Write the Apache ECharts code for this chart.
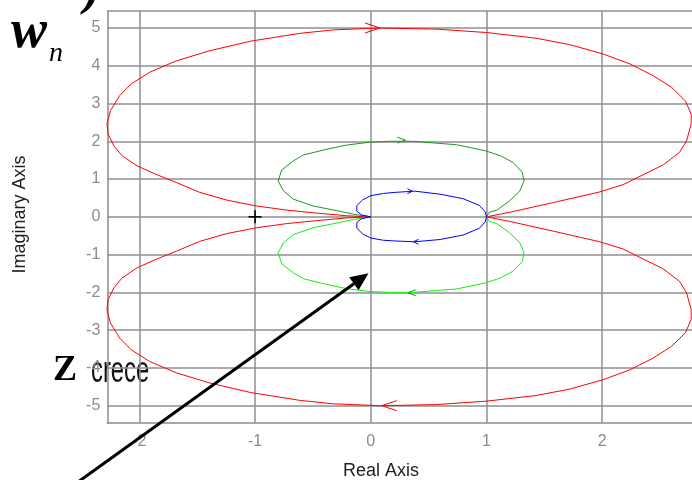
<!DOCTYPE html>
<html>
<head>
<meta charset="utf-8">
<script src="https://cdn.jsdelivr.net/npm/echarts@6/dist/echarts.min.js"></script>
<style>
  html, body { margin: 0; padding: 0; background: #ffffff; }
  #chart { width: 692px; height: 480px; }
</style>
</head>
<body>
<div id="chart"></div>
<script>
// Axis ticks and visible ranges
const xTickLabels = [-2, -1, 0, 1, 2];
const yTickLabels = [-5, -4, -3, -2, -1, 0, 1, 2, 3, 4, 5];
const xRange = [-2.277, 2.777];
const yRange = [-5.45, 5.45];

// Red locus, positive frequencies: from (1, 0) round the bottom into the origin
const redLowRe = [1.00, 1.20, 1.58, 1.98, 2.18, 2.53, 2.67, 2.73, 2.77, 2.77, 2.72, 2.60, 2.44, 2.24, 2.01, 1.72, 1.43, 1.00, 0.57, 0.08,
  -0.32, -0.61, -1.04, -1.39, -1.68, -1.91, -2.07, -2.17, -2.25, -2.28, -2.27, -2.22, -2.15, -2.02, -1.86, -1.68, -1.48, -1.24, -0.99, -0.73, -0.47, -0.21, -0.02];
const redLowIm = [0.00, -0.12, -0.38, -0.66, -0.85, -1.38, -1.71, -2.01, -2.46, -2.72, -3.07, -3.43, -3.74, -4.05, -4.31, -4.56, -4.73, -4.88, -4.97, -5.00,
  -4.95, -4.86, -4.65, -4.40, -4.13, -3.83, -3.52, -3.21, -2.81, -2.46, -2.19, -1.88, -1.62, -1.35, -1.13, -0.91, -0.65, -0.44, -0.29, -0.18, -0.10, -0.03, 0.00];
// Red locus, negative frequencies (upper half)
const redUpRe = [1.00, 1.20, 1.58, 1.98, 2.18, 2.53, 2.67, 2.73, 2.77, 2.77, 2.72, 2.60, 2.44, 2.24, 2.01, 1.72, 1.43, 1.00, 0.57, 0.08,
  -0.32, -0.61, -1.04, -1.39, -1.68, -1.91, -2.07, -2.17, -2.25, -2.28, -2.27, -2.22, -2.15, -2.02, -1.86, -1.68, -1.48, -1.24, -0.99, -0.73, -0.47, -0.21, -0.02];
const redUpIm = [0.00, 0.12, 0.38, 0.66, 0.85, 1.38, 1.71, 2.01, 2.46, 2.72, 3.07, 3.43, 3.74, 4.05, 4.31, 4.56, 4.73, 4.88, 4.97, 5.00,
  4.95, 4.86, 4.65, 4.40, 4.13, 3.83, 3.52, 3.21, 2.81, 2.46, 2.19, 1.88, 1.62, 1.35, 1.13, 0.91, 0.65, 0.44, 0.29, 0.18, 0.10, 0.03, 0.00];

// Green locus
const greenLowRe = [1.00, 1.025, 1.09, 1.20, 1.29, 1.325, 1.31, 1.23, 1.12, 0.99, 0.74, 0.57, 0.37, 0.17, 0.00, -0.21, -0.38, -0.58, -0.67, -0.77, -0.80, -0.755, -0.67, -0.50, -0.32, -0.15, 0.00];
const greenLowIm = [0.00, -0.12, -0.18, -0.42, -0.69, -0.95, -1.18, -1.44, -1.62, -1.75, -1.91, -1.95, -2.00, -2.00, -1.98, -1.90, -1.79, -1.64, -1.48, -1.24, -0.95, -0.69, -0.47, -0.29, -0.18, -0.07, 0.00];
const greenUpRe = [1.00, 1.025, 1.09, 1.20, 1.29, 1.325, 1.31, 1.23, 1.12, 0.99, 0.74, 0.57, 0.37, 0.17, 0.00, -0.21, -0.38, -0.58, -0.67, -0.77, -0.80, -0.755, -0.67, -0.50, -0.32, -0.15, 0.00];
const greenUpIm = [0.00, 0.12, 0.18, 0.42, 0.69, 0.95, 1.18, 1.44, 1.62, 1.75, 1.91, 1.95, 2.00, 2.00, 1.98, 1.90, 1.79, 1.64, 1.48, 1.24, 0.95, 0.69, 0.47, 0.29, 0.18, 0.07, 0.00];

// Blue locus
const blueLowRe = [1.00, 0.99, 0.94, 0.80, 0.60, 0.38, 0.22, 0.11, 0.00, -0.07, -0.12, -0.12, -0.08, 0.00];
const blueLowIm = [0.00, -0.13, -0.30, -0.48, -0.60, -0.66, -0.64, -0.62, -0.56, -0.45, -0.30, -0.15, -0.05, 0.00];
const blueUpRe = [1.00, 0.99, 0.94, 0.80, 0.60, 0.38, 0.22, 0.11, 0.00, -0.07, -0.12, -0.12, -0.08, 0.00];
const blueUpIm = [0.00, 0.13, 0.30, 0.48, 0.60, 0.68, 0.65, 0.62, 0.56, 0.45, 0.30, 0.15, 0.05, 0.00];

// Direction arrows on each locus: [re, im, heading in degrees on screen]
const redArrows = [[0.08, 5.00, 0], [0.095, -5.00, 180]];
const greenArrows = [[0.30, 2.03, 0], [0.32, -2.01, 180]];
const blueArrows = [[0.36, 0.68, 0], [0.37, -0.66, 180]];
// Critical point -1 + j0
const criticalPoint = [[-1, 0]];

const RED = '#ff0000';
const GREEN_UP = '#1f981f';
const GREEN_LOW = '#14ee14';
const BLUE = '#0000ff';
const FRAME = '#8c8c8c';

function zip(re, im) { return re.map((v, i) => [v, im[i]]); }

function curve(re, im, color) {
  return {
    type: 'line', data: zip(re, im), showSymbol: false, smooth: false,
    lineStyle: { color: color, width: 1 }, silent: true, animation: false, z: 3
  };
}

function arrowSeries(points, color, len, half, lw) {
  return {
    type: 'custom', data: points, silent: true, animation: false, z: 6, clip: false,
    renderItem: function (params, api) {
      const p = api.coord([api.value(0), api.value(1)]);
      const a = api.value(2) * Math.PI / 180;
      const dx = Math.cos(a), dy = Math.sin(a);
      const nx = -dy, ny = dx;
      const e1 = [p[0] - len * dx + half * nx, p[1] - len * dy + half * ny];
      const e2 = [p[0] - len * dx - half * nx, p[1] - len * dy - half * ny];
      return {
        type: 'polyline',
        shape: { points: [e1, p, e2] },
        style: { stroke: color, fill: 'none', lineWidth: lw }
      };
    }
  };
}

const plusSeries = {
  type: 'custom', data: criticalPoint, silent: true, animation: false, z: 6,
  renderItem: function (params, api) {
    const p = api.coord([api.value(0), api.value(1)]);
    const r = 6.5;
    return {
      type: 'group',
      children: [
        { type: 'line', shape: { x1: p[0] - r, y1: p[1], x2: p[0] + r, y2: p[1] }, style: { stroke: '#000', lineWidth: 1.6 } },
        { type: 'line', shape: { x1: p[0], y1: p[1] - r, x2: p[0], y2: p[1] + r }, style: { stroke: '#000', lineWidth: 1.6 } }
      ]
    };
  }
};

const tickFont = { color: '#8c8c8c', fontSize: 16, fontFamily: '"Liberation Sans", Arial, sans-serif' };

const chart = echarts.init(document.getElementById('chart'), null, { renderer: 'canvas' });

// Pointer arrow towards the inner loci
const arrowStart = [78, 482];
const arrowTip = [368.5, 273.2];
const dLen = Math.hypot(arrowTip[0] - arrowStart[0], arrowTip[1] - arrowStart[1]);
const ux = (arrowTip[0] - arrowStart[0]) / dLen, uy = (arrowTip[1] - arrowStart[1]) / dLen;
const headLen = 18, headHalf = 8;
const base = [arrowTip[0] - headLen * ux, arrowTip[1] - headLen * uy];

chart.setOption({
  backgroundColor: '#ffffff',
  animation: false,
  grid: { left: 107.3, right: 0, top: 11, bottom: 57.3, show: false, outerBoundsMode: 'none', containLabel: false },
  xAxis: {
    type: 'value', min: xRange[0], max: xRange[1], splitNumber: 5,
    axisLine: { show: true, onZero: false, lineStyle: { color: FRAME, width: 1.5 } },
    axisTick: { show: false },
    splitLine: { show: true, showMinLine: false, showMaxLine: false, lineStyle: { color: '#8f8f8f', width: 1.5 } },
    axisLabel: Object.assign({
      margin: 11,
      formatter: function (v) { return xTickLabels.indexOf(Math.round(v * 1000) / 1000) >= 0 ? String(v) : ''; }
    }, tickFont)
  },
  yAxis: {
    type: 'value', min: yRange[0], max: yRange[1], splitNumber: 10,
    axisLine: { show: true, onZero: false, lineStyle: { color: FRAME, width: 1.5 } },
    axisTick: { show: false },
    splitLine: { show: true, showMinLine: false, showMaxLine: true, lineStyle: { color: '#8f8f8f', width: 1.5 } },
    axisLabel: Object.assign({
      margin: 7,
      formatter: function (v) { return yTickLabels.indexOf(Math.round(v * 1000) / 1000) >= 0 ? String(v) : ''; }
    }, tickFont)
  },
  series: [
    curve(redLowRe, redLowIm, RED),
    curve(redUpRe, redUpIm, RED),
    curve(greenUpRe, greenUpIm, GREEN_UP),
    curve(greenLowRe, greenLowIm, GREEN_LOW),
    curve(blueLowRe, blueLowIm, BLUE),
    curve(blueUpRe, blueUpIm, BLUE),
    arrowSeries(redArrows, RED, 15, 5, 1),
    arrowSeries(greenArrows, GREEN_UP, 8, 3, 1),
    arrowSeries(blueArrows, BLUE, 5, 2.5, 1),
    plusSeries
  ],
  graphic: [
    { type: 'text', x: 381, y: 471, silent: true,
      style: { text: 'Real Axis', font: '18px "Liberation Sans", Arial, sans-serif', fill: '#1e1e1e', align: 'center', verticalAlign: 'middle' } },
    { type: 'text', x: 20.5, y: 214.5, rotation: Math.PI / 2, silent: true,
      style: { text: 'Imaginary Axis', font: '18px "Liberation Sans", Arial, sans-serif', fill: '#1e1e1e', align: 'center', verticalAlign: 'middle' } },
    { type: 'text', x: 11, y: 33, silent: true,
      style: { text: 'w', font: 'italic bold 54px "Liberation Serif", "Times New Roman", serif', fill: '#000', align: 'left', verticalAlign: 'middle' } },
    { type: 'text', x: 49, y: 54, silent: true,
      style: { text: 'n', font: 'italic 28px "Liberation Serif", "Times New Roman", serif', fill: '#000', align: 'left', verticalAlign: 'middle' } },
    { type: 'text', x: 84, y: -8.5, silent: true,
      style: { text: ')', font: 'italic bold 50px "Liberation Serif", "Times New Roman", serif', fill: '#000', align: 'left', verticalAlign: 'middle' } },
    { type: 'text', x: 53, y: 371, silent: true,
      style: { text: 'Z', font: 'bold 36px "Liberation Serif", "Times New Roman", serif', fill: '#000', align: 'left', verticalAlign: 'middle' } },
    { type: 'text', x: 91, y: 372, scaleX: 0.66, silent: true,
      style: { text: 'crece', font: '36px "Liberation Sans", Arial, sans-serif', fill: '#111', align: 'left', verticalAlign: 'middle' } },
    { type: 'line', silent: true, z: 100,
      shape: { x1: arrowStart[0], y1: arrowStart[1], x2: base[0], y2: base[1] },
      style: { stroke: '#000', lineWidth: 3 } },
    { type: 'polygon', silent: true, z: 100,
      shape: { points: [arrowTip, [base[0] + headHalf * -uy, base[1] + headHalf * ux], [base[0] - headHalf * -uy, base[1] - headHalf * ux]] },
      style: { fill: '#000' } }
  ]
});
</script>
</body>
</html>
